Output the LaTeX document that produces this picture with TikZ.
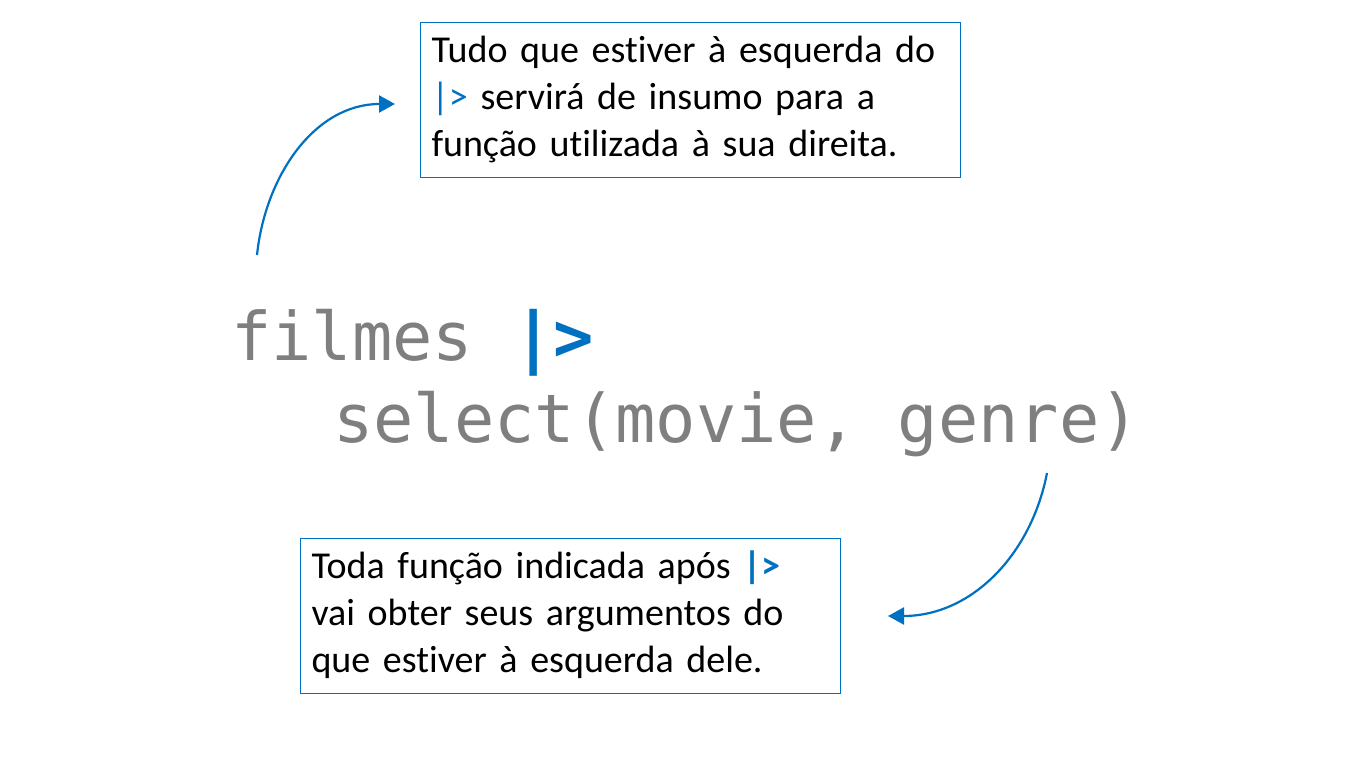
\documentclass[tikz,border=0pt]{standalone}
\usepackage{fontspec}
\setmainfont{Carlito}[Ligatures=NoCommon]
\newfontfamily\codefont{DejaVu Sans Mono}
\usepackage{xcolor}
\usepackage{tikz}
\usetikzlibrary{arrows.meta}
\usetikzlibrary{calc}
\usetikzlibrary{positioning}

\definecolor{pipeblue}{HTML}{0070C0}
\definecolor{codegray}{HTML}{7F7F7F}

\begin{document}
\begin{tikzpicture}[
		x=1pt,
		y=1pt,
		font=\fontsize{38pt}{47pt}\selectfont,
		>={Triangle[length=16pt,width=17pt]},
	]
		\tikzset{notebox/.style={
			draw=pipeblue,
			line width=1pt,
			rectangle,
			anchor=north west,
			inner xsep=11,
			inner ysep=7,
			text width=518,
			minimum height=155,
			align=left,
		}}
		\tikzset{codeline/.style={
			anchor=base west,
			inner sep=0,
			text=codegray,
			font=\codefont\fontsize{67pt}{80pt}\selectfont,
		}}
		\tikzset{curvearrow/.style={
			->,
			draw=pipeblue,
			line width=2.2pt,
		}}

		\useasboundingbox (0,0) rectangle (1351,758);

		\node[codeline] (pipeline) at (231,397) {filmes {\color{pipeblue}\bfseries|>}};
		\node[codeline] (selectcall) at (333,315) {select(movie, genre)};

		\node[notebox] (leftnote) at (420,736) {\strut Tudo que estiver à esquerda do\\
			{\color{pipeblue}|>} servirá de insumo para a\\
			função utilizada à sua direita.\strut};

		\node[notebox] (rightnote) at (300,220) {\strut Toda função indicada após {\color{pipeblue}\bfseries|>}\\
			vai obter seus argumentos do\\
			que estiver à esquerda dele.\strut};

		\coordinate (upstart) at (257,503);
		\coordinate (upend) at (395,654);
		\coordinate (downstart) at (1047,285);
		\coordinate (downend) at (888,142);

		\draw[curvearrow] (upstart) to[out=84,in=180] (upend);
		\draw[curvearrow] (downstart) to[out=-101,in=0] (downend);
	\end{tikzpicture}
\end{document}
